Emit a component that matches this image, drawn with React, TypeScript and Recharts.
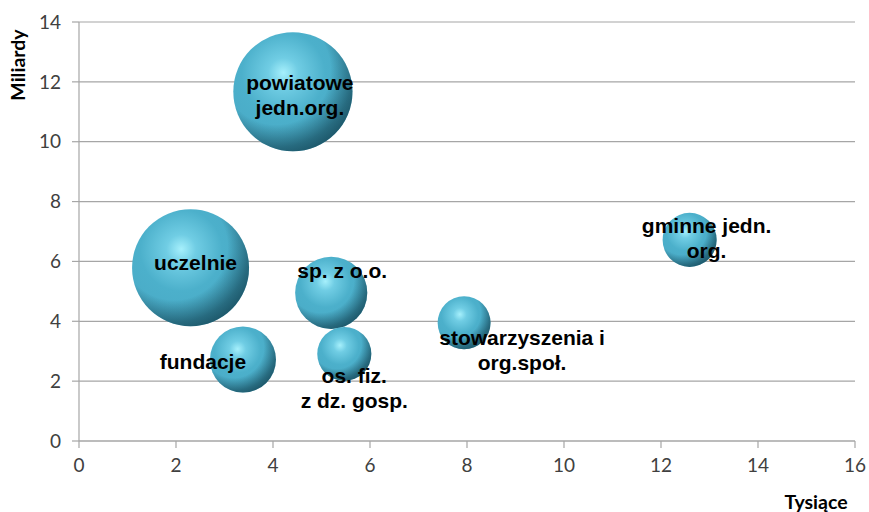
import { ScatterChart, Scatter, XAxis, YAxis, ZAxis, CartesianGrid } from "recharts";

// Jednostki (etykiety bąbli), liczba w tysiącach, kwota w miliardach, wielkość bąbla
const names = [
  "powiatowe\njedn.org.",
  "uczelnie",
  "fundacje",
  "sp. z o.o.",
  "os. fiz.\nz dz. gosp.",
  "stowarzyszenia i\norg.społ.",
  "gminne jedn.\norg.",
];
const thousands = [4.41, 2.3, 3.38, 5.2, 5.47, 7.94, 12.59];
const billions = [11.67, 5.79, 2.72, 4.95, 2.91, 3.95, 6.72];
const sizes = [3.55, 3.42, 1.09, 1.3, 0.73, 0.7, 0.73];

const xTicks = [0, 2, 4, 6, 8, 10, 12, 14, 16];
const yTicks = [0, 2, 4, 6, 8, 10, 12, 14];

// label block offset from bubble centre, px
const labelShift: [number, number][] = [
  [7, 3],
  [5, -5],
  [-40, 2],
  [11, -22],
  [10, 34],
  [58, 27],
  [17, -2],
];

const data = names.map((name, i) => ({
  name,
  x: thousands[i],
  y: billions[i],
  z: sizes[i],
  idx: i,
}));

const GRID = "#a6a6a6";
const TICK = { fontSize: 19, fill: "#404040", fontFamily: "Lato, sans-serif" };

function Bubble(props: any) {
  const { cx, cy, width, payload } = props;
  if (cx == null || cy == null) return null;
  const r = width / 2;
  const lines: string[] = payload.name.split("\n");
  const [dx, dy] = labelShift[payload.idx];
  const lh = 25;
  const top = cy + dy - ((lines.length - 1) * lh) / 2;
  return (
    <g>
      <circle cx={cx} cy={cy} r={r} fill="url(#sphere)" />
      <circle cx={cx} cy={cy} r={r} fill="url(#shade)" />
      <text
        textAnchor="middle"
        fontFamily="'Liberation Sans', Arial, sans-serif"
        fontWeight="bold"
        fontSize={21}
        fill="#000"
      >
        {lines.map((t, i) => (
          <tspan key={i} x={cx + dx} y={top + i * lh} dy="0.36em">
            {t}
          </tspan>
        ))}
      </text>
    </g>
  );
}

export default function App() {
  return (
    <div style={{ position: "absolute", left: 0, top: 0, background: "#fff" }}>
      <ScatterChart width={869} height={512} margin={{ top: 22, right: 14, left: 0, bottom: 0 }}>
        <defs>
          <radialGradient id="sphere" cx="0.42" cy="0.36" r="0.7" fx="0.42" fy="0.34">
            <stop offset="0%" stopColor="#a6f0fc" />
            <stop offset="18%" stopColor="#70cde4" />
            <stop offset="50%" stopColor="#4cb0cb" />
            <stop offset="100%" stopColor="#48a8c4" />
          </radialGradient>
          <radialGradient id="shade" cx="0.36" cy="0.32" r="0.76">
            <stop offset="0%" stopColor="#08303e" stopOpacity={0} />
            <stop offset="60%" stopColor="#08303e" stopOpacity={0} />
            <stop offset="85%" stopColor="#08303e" stopOpacity={0.52} />
            <stop offset="100%" stopColor="#08303e" stopOpacity={0.72} />
          </radialGradient>
        </defs>
        <CartesianGrid vertical={false} stroke={GRID} strokeWidth={1.2} />
        <XAxis
          type="number"
          dataKey="x"
          domain={[0, 16]}
          ticks={xTicks}
          height={71}
          tickSize={7}
          tickMargin={11}
          stroke={GRID}
          strokeWidth={1.2}
          tick={TICK}
          label={() => (
            <text
              x={816}
              y={502}
              dy="0.36em"
              textAnchor="middle"
              fontFamily="Lato, sans-serif"
              fontWeight="bold"
              fontSize={19.5}
              fill="#000"
            >
              Tysiące
            </text>
          )}
        />
        <YAxis
          type="number"
          dataKey="y"
          domain={[0, 14]}
          ticks={yTicks}
          width={79}
          tickSize={7}
          tickMargin={11}
          stroke={GRID}
          strokeWidth={1.2}
          tick={TICK}
          label={() => (
            <text
              x={18}
              y={65}
              dy="0.36em"
              textAnchor="middle"
              transform="rotate(-90 18 65)"
              fontFamily="Lato, sans-serif"
              fontWeight="bold"
              fontSize={19.5}
              fill="#000"
            >
              Miliardy
            </text>
          )}
        />
        <ZAxis type="number" dataKey="z" domain={[0, 3.6]} range={[0, Math.PI * 60 * 60]} />
        <Scatter data={data} shape={<Bubble />} isAnimationActive={false} />
      </ScatterChart>
    </div>
  );
}
